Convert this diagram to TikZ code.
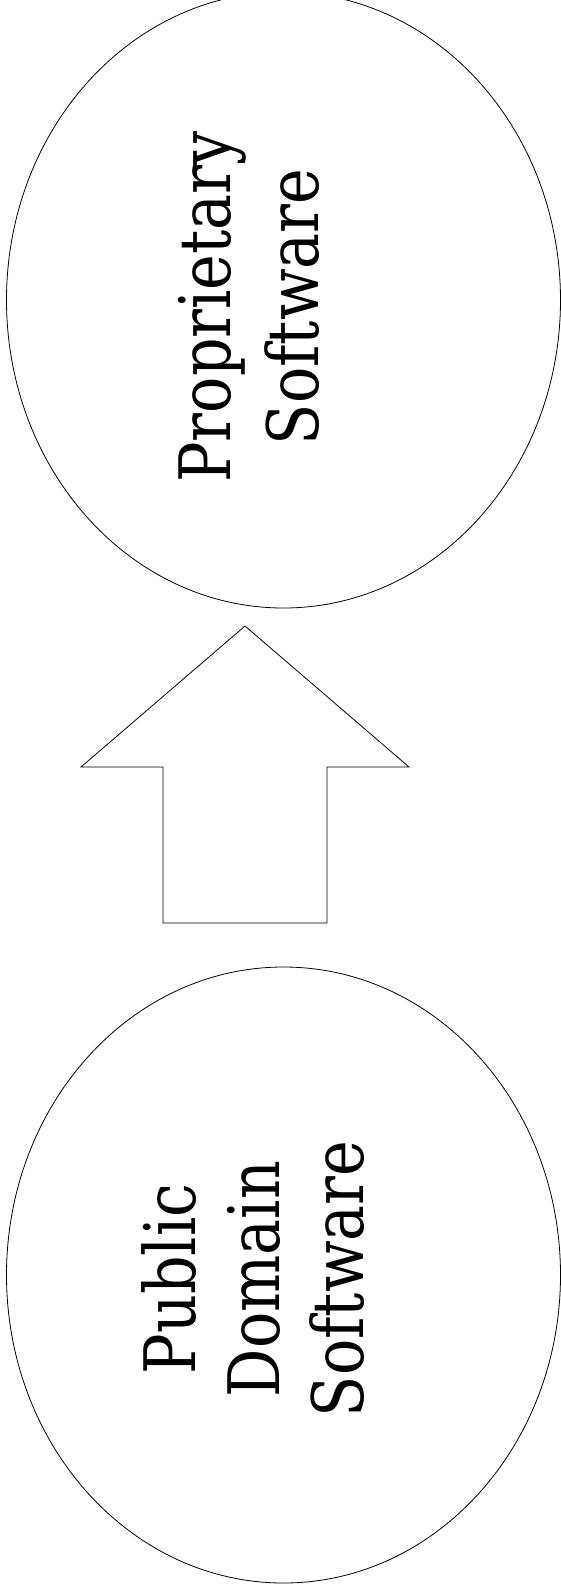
\documentclass[tikz,border=0pt]{standalone}
\usepackage{fontspec}
\setmainfont{DejaVu Serif}[FakeStretch=0.85]
\usetikzlibrary{shapes.geometric}
\begin{document}
\begin{tikzpicture}[x=1pt,y=-1pt,
  bubble/.style={draw, line width=0.8pt, ellipse, minimum width=554pt, minimum height=616pt, inner sep=0pt},
  label/.style={rotate=90, align=center, inner sep=0pt}]
\useasboundingbox (0,0) rectangle (561,1593);
\node[bubble] (prop) at (283.5,300) {};
\node[bubble] (pub) at (283.5,1275) {};
\node[label, font=\fontsize{71}{88}\selectfont] (proptext) at (249,307) {Proprietary\\Software};
\node[label, font=\fontsize{71}{84}\selectfont] (pubtext) at (253,1279) {Public\\Domain\\Software};
\draw[line width=0.8pt] (245,626) -- (409,767) -- (327,767) -- (327,923) -- (163,923) -- (163,767) -- (81,767) -- cycle;
\end{tikzpicture}
\end{document}
